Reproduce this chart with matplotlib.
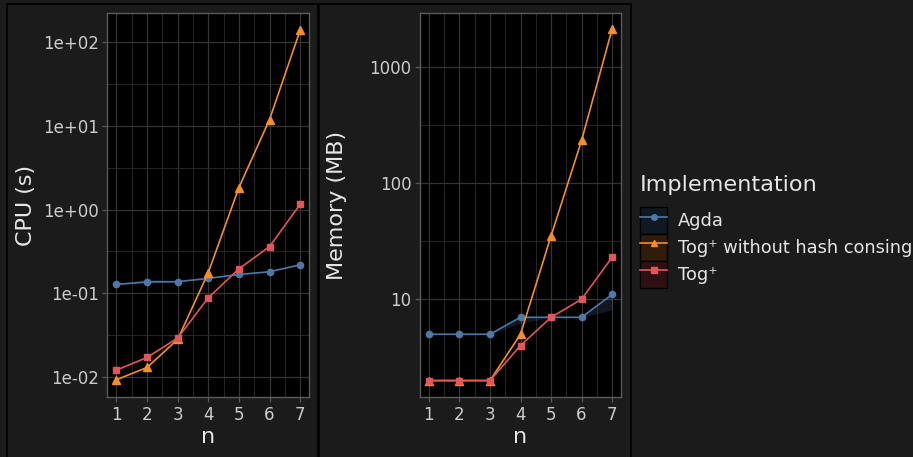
import matplotlib
matplotlib.use("Agg")
import matplotlib.pyplot as plt
from matplotlib.patches import Rectangle, Patch
from matplotlib.lines import Line2D
from matplotlib.legend_handler import HandlerTuple
import matplotlib.ticker as mticker
import numpy as np

# data
n = [1, 2, 3, 4, 5, 6, 7]
impl_names = ["Agda", "Tog\u207a without hash consing", "Tog\u207a"]

cpu_agda = [0.127, 0.136, 0.137, 0.150, 0.167, 0.180, 0.218]
cpu_agda_lo = [0.127, 0.134, 0.136, 0.150, 0.167, 0.180, 0.218]
cpu_agda_hi = [0.127, 0.148, 0.140, 0.150, 0.167, 0.180, 0.218]
cpu_nohash = [0.0092, 0.0129, 0.028, 0.176, 1.83, 11.9, 139]
cpu_tog = [0.012, 0.017, 0.029, 0.088, 0.195, 0.36, 1.15]

mem_agda = [5, 5, 5, 7, 7, 7, 11]
mem_agda_lo = [5, 5, 5, 6.2, 7, 7, 8.1]
mem_agda_hi = [5, 5, 5, 7, 7, 7, 11]
mem_nohash = [2, 2, 2, 5, 35, 232, 2110]
mem_tog = [2, 2, 2, 4, 7, 10, 23]

cpu_ticks = [0.01, 0.1, 1, 10, 100]
cpu_labels = ["1e-02", "1e-01", "1e+00", "1e+01", "1e+02"]
mem_ticks = [10, 100, 1000]
mem_labels = ["10", "100", "1000"]

colors = ["#4e79a7", "#f28e2b", "#e15759"]
markers = ["o", "^", "s"]
msizes = [4.5, 5.5, 5]

bg = "#1b1b1b"
txt = "#e6e6e6"
tickc = "#cccccc"

fig = plt.figure(figsize=(9.13, 4.57), dpi=100, facecolor=bg)

# outer boxes around each sub-plot
for x0, x1 in [(7, 318), (318.5, 630.5)]:
    fig.add_artist(Rectangle((x0 / 913, -0.05), (x1 - x0) / 913, 1 - 3.5 / 457 + 0.05,
                             transform=fig.transFigure, facecolor="none",
                             edgecolor="black", lw=1.2, zorder=0))

ax1 = fig.add_axes([107.3 / 913, 1 - 397.3 / 457, 202 / 913, 384.6 / 457])
ax2 = fig.add_axes([419.7 / 913, 1 - 397.3 / 457, 201.6 / 913, 384.6 / 457])


def style(ax, ylim, ticks, labels, minors, ylabel, lab_x):
    ax.set_facecolor("black")
    ax.set_yscale("log")
    ax.set_xlim(0.7, 7.3)
    ax.set_ylim(*ylim)
    ax.yaxis.set_major_locator(mticker.FixedLocator(ticks))
    ax.yaxis.set_major_formatter(mticker.FixedFormatter(labels))
    ax.yaxis.set_minor_locator(mticker.FixedLocator(minors))
    ax.yaxis.set_minor_formatter(mticker.NullFormatter())
    ax.set_xticks(n)
    ax.set_xticks([1.5, 2.5, 3.5, 4.5, 5.5, 6.5], minor=True)
    ax.grid(True, which="major", color="#343434", lw=0.9, zorder=0)
    ax.grid(True, which="minor", color="#262626", lw=0.7, zorder=0)
    ax.set_axisbelow(True)
    for s in ax.spines.values():
        s.set_color("#5a5a5a")
        s.set_linewidth(1.0)
    ax.tick_params(which="major", colors="#5a5a5a", labelcolor=tickc,
                   labelsize=12, length=3.5, width=0.9, pad=2.5)
    ax.tick_params(which="minor", length=0)
    ax.set_xlabel("n", color=txt, fontsize=16)
    ax.set_ylabel(ylabel, color=txt, fontsize=16)
    ax.xaxis.set_label_coords(0.5, -0.078)
    ax.yaxis.set_label_coords(lab_x, 0.5)


style(ax1, (0.00567, 226), cpu_ticks, cpu_labels,
      [10 ** -1.5, 10 ** -0.5, 10 ** 0.5, 10 ** 1.5], "CPU (s)", -0.353)
style(ax2, (1.436, 2911), mem_ticks, mem_labels,
      [10 ** 1.5, 10 ** 2.5], "Memory (MB)", -0.361)

ax1.fill_between(n, cpu_agda_lo, cpu_agda_hi, color=colors[0], alpha=0.2, lw=0, zorder=1)
ax2.fill_between(n, mem_agda_lo, mem_agda_hi, color=colors[0], alpha=0.2, lw=0, zorder=1)

cpu_series = [cpu_agda, cpu_nohash, cpu_tog]
mem_series = [mem_agda, mem_nohash, mem_tog]
for i in range(3):
    ax1.plot(n, cpu_series[i], color=colors[i], marker=markers[i], ms=msizes[i],
             lw=1.2, zorder=3)
    ax2.plot(n, mem_series[i], color=colors[i], marker=markers[i], ms=msizes[i],
             lw=1.2, zorder=3)

# legend with ribbon-coloured key backgrounds
handles = []
for i in range(3):
    c = np.array(matplotlib.colors.to_rgb(colors[i])) * 0.2
    key = Patch(facecolor=c, edgecolor="black", lw=1)
    line = Line2D([], [], color=colors[i], marker=markers[i], ms=msizes[i] * 0.9, lw=1.2)
    handles.append((key, line))

fig.text(640 / 913, 1 - 185 / 457, "Implementation", color=txt, fontsize=16.1,
         ha="left", va="center")
leg = fig.legend(handles, impl_names, loc="upper left",
                 bbox_to_anchor=(624 / 913, 1 - 191 / 457),
                 handler_map={tuple: HandlerTuple(ndivide=1, pad=0)},
                 frameon=False, fontsize=12.8, labelcolor=txt,
                 handlelength=1.52, handleheight=1.95, labelspacing=0.0,
                 handletextpad=0.6)

fig.savefig("out.png", dpi=100, facecolor=bg)
